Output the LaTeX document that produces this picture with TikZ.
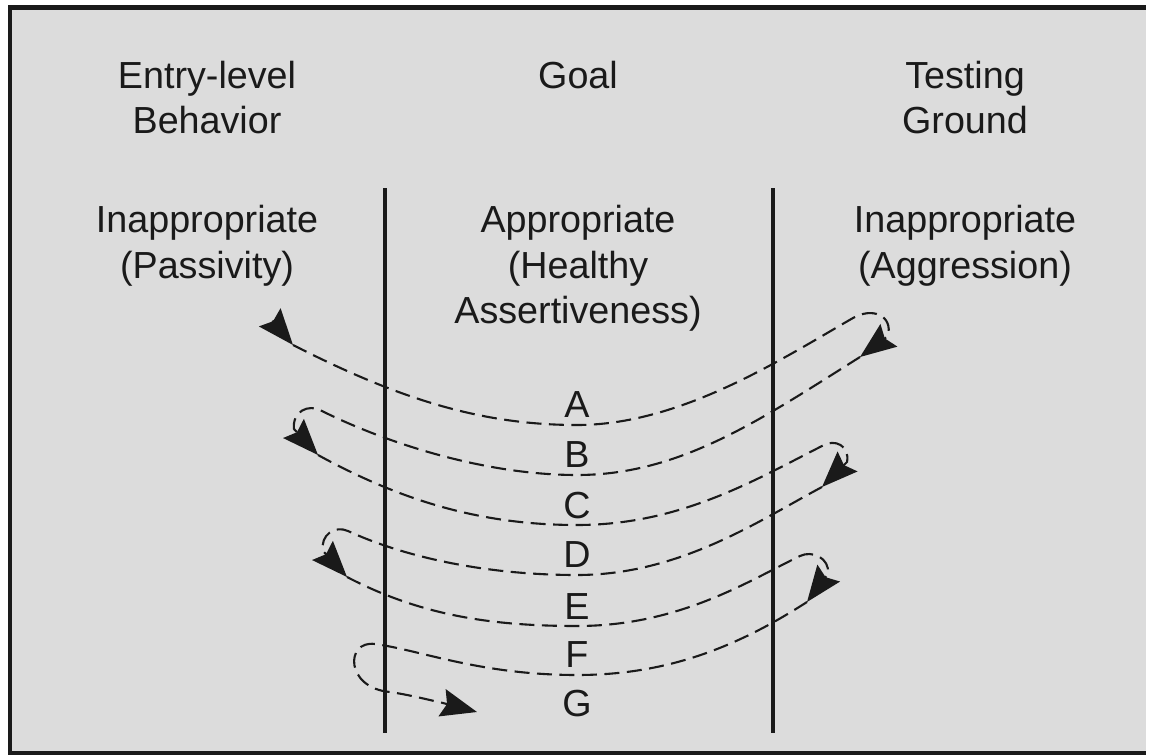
\documentclass[tikz,border=0pt]{standalone}
\usepackage{fontspec}
\setmainfont{Liberation Sans}
\usetikzlibrary{arrows.meta}
\definecolor{bg}{HTML}{DCDCDC}
\definecolor{ink}{HTML}{1A1A1A}
\begin{document}
\begin{tikzpicture}[x=1pt,y=-1pt,
  lbl/.style={inner sep=0pt, anchor=base, font=\fontsize{37.7}{45}\selectfont, text=ink},
  swing/.style={draw=ink, line width=2.1pt, dash pattern=on 15pt off 7.5pt},
  tipped/.style={-{Stealth[length=36pt,width=28pt,inset=5pt]}},
  divider/.style={draw=ink, line width=4pt},
  frameline/.style={draw=ink, line width=4.5pt}]
\useasboundingbox (0,0) rectangle (1149,755);
\fill[white] (0,0) rectangle (1149,755);
\fill[bg] (8,5) rectangle (1146,755);
\draw[frameline] (8,7.5) -- (1146,7.5);
\draw[frameline] (10.2,5) -- (10.2,755);
\draw[frameline] (8,752.8) -- (1146,752.8);

% column headings
\node[lbl] (h1a) at (207,88) {Entry-level};
\node[lbl] (h1b) at (207,133) {Behavior};
\node[lbl] (h2a) at (578,88) {Goal};
\node[lbl] (h3a) at (965,88) {Testing};
\node[lbl] (h3b) at (965,133) {Ground};

% column contents
\node[lbl] (c1a) at (207,232) {Inappropriate};
\node[lbl] (c1b) at (207,278) {(Passivity)};
\node[lbl] (c2a) at (578,232) {Appropriate};
\node[lbl] (c2b) at (578,278) {(Healthy};
\node[lbl] (c2c) at (578,323) {Assertiveness)};
\node[lbl] (c3a) at (965,232) {Inappropriate};
\node[lbl] (c3b) at (965,278) {(Aggression)};

% dividers
\coordinate (d1t) at (385,188); \coordinate (d1b) at (385,733);
\coordinate (d2t) at (773,188); \coordinate (d2b) at (773,733);
\draw[divider] (d1t) -- (d1b);
\draw[divider] (d2t) -- (d2b);

% letters
\node[lbl] (lA) at (577,417) {A};
\node[lbl] (lB) at (577,467) {B};
\node[lbl] (lC) at (577,518) {C};
\node[lbl] (lD) at (577,567) {D};
\node[lbl] (lE) at (577,619) {E};
\node[lbl] (lF) at (577,667) {F};
\node[lbl] (lG) at (577,716) {G};

% turning points (arrow tips and backs)
\coordinate (s0) at (272.5,320.6);
\coordinate (t0) at (293,345);
\coordinate (t1) at (860,357); \coordinate (b1) at (888,336);
\coordinate (t2) at (318,455); \coordinate (b2) at (294,429);
\coordinate (t3) at (822,487); \coordinate (b3) at (847,462);
\coordinate (t4) at (347,577); \coordinate (b4) at (323,551);
\coordinate (t5) at (807,602); \coordinate (b5) at (828,574);
\coordinate (t6) at (477,712); \coordinate (b6) at (443,703);
% lowest points under the letters
\coordinate (uA) at (577,425);
\coordinate (uB) at (577,475);
\coordinate (uC) at (577,525);
\coordinate (uD) at (577,575);
\coordinate (uE) at (577,626);
\coordinate (uF) at (577,675);

% swings
\draw[swing,tipped] (s0) -- (t0);
\draw[swing,tipped] (t0) .. controls (397,398) and (480,425) .. (uA)
  .. controls (680,425) and (780,360) .. (853,318)
  .. controls (872,307) and (893,315) .. (b1) -- (t1);
\draw[swing,tipped] (t1) .. controls (760,420) and (680,475) .. (uB)
  .. controls (480,475) and (380,440) .. (322,411)
  .. controls (308,403) and (292,412) .. (b2) -- (t2);
\draw[swing,tipped] (t2) .. controls (400,500) and (480,525) .. (uC)
  .. controls (680,525) and (755,480) .. (822,446)
  .. controls (835,438) and (850,446) .. (b3) -- (t3);
\draw[swing,tipped] (t3) .. controls (760,520) and (680,575) .. (uD)
  .. controls (480,575) and (400,555) .. (348,531)
  .. controls (335,525) and (320,535) .. (b4) -- (t4);
\draw[swing,tipped] (t4) .. controls (420,615) and (490,626) .. (uE)
  .. controls (680,626) and (750,580) .. (800,556)
  .. controls (812,550) and (830,558) .. (b5) -- (t5);
\draw[swing,tipped] (t5) .. controls (740,645) and (670,675) .. (uF)
  .. controls (480,675) and (420,650) .. (375,644)
  .. controls (345,640) and (345,688) .. (390,692)
  .. controls (410,695) and (425,699) .. (b6) -- (t6);
\end{tikzpicture}
\end{document}
